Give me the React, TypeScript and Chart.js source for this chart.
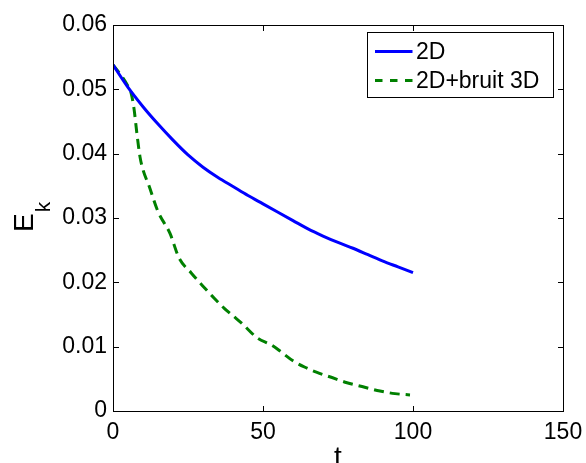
import React, { useEffect, useRef } from "react";
import { Chart, registerables } from "chart.js";

Chart.register(...registerables);

// Time axis (t) and kinetic energy E_k series
const tBlue = [0, 5, 10, 15, 20, 25, 30, 35, 40, 45, 50, 55, 60, 65, 70, 75, 80, 85, 90, 95, 100];
const ek2D = [0.0538, 0.0503, 0.0473, 0.0446, 0.0421, 0.0398, 0.0379, 0.0363, 0.0349, 0.0335, 0.0322, 0.0309, 0.0296, 0.0283, 0.0272, 0.0262, 0.0253, 0.0243, 0.0233, 0.0224, 0.0215];

const tNoise = [0, 3, 5, 6, 7, 8, 9, 10, 12, 15, 19, 22, 26, 30, 33, 37, 40, 43, 48, 53, 56, 60, 64, 68, 73, 78, 83, 89, 94, 99];
const ek2DNoise = [0.0538, 0.052, 0.0505, 0.0495, 0.047, 0.043, 0.0395, 0.0375, 0.035, 0.031, 0.0276, 0.0238, 0.0215, 0.0194, 0.0179, 0.016, 0.0148, 0.0136, 0.0114, 0.0102, 0.0092, 0.0078, 0.0068, 0.006, 0.0052, 0.0044, 0.0038, 0.0031, 0.0027, 0.0025];

const seriesLabels = ["2D", "2D+bruit 3D"];
const xTicks = [0, 50, 100, 150];
const yTicks = [0, 0.01, 0.02, 0.03, 0.04, 0.05, 0.06];
const xTitle = "t";
const yTitleMain = "E";
const yTitleSub = "k";

const FONT = '"Liberation Sans", Arial, Helvetica, sans-serif';

const framePlugin = {
  id: "matlabFrame",
  afterDraw(chart: any) {
    const ctx: CanvasRenderingContext2D = chart.ctx;
    const xs = chart.scales.x;
    const ys = chart.scales.y;
    const left = Math.round(xs.getPixelForValue(0));
    const right = Math.round(xs.getPixelForValue(150));
    const top = Math.round(ys.getPixelForValue(0.06));
    const bottom = Math.round(ys.getPixelForValue(0));

    // legend
    ctx.save();
    const lx = 367.5, ly = 32.5, lw = 186, lh = 65;
    ctx.fillStyle = "#fff";
    ctx.fillRect(lx, ly, lw, lh);
    ctx.strokeStyle = "#000";
    ctx.lineWidth = 1;
    ctx.strokeRect(lx, ly, lw, lh);
    const rows = [51.5, 80.5];
    chart.data.datasets.forEach((ds: any, i: number) => {
      const y = rows[i];
      ctx.beginPath();
      ctx.strokeStyle = ds.borderColor;
      ctx.lineWidth = 3;
      ctx.setLineDash(i === 1 ? [7.5, 7.5] : []);
      ctx.moveTo(375, y);
      ctx.lineTo(412.5, y);
      ctx.stroke();
      ctx.setLineDash([]);
      ctx.fillStyle = "#000";
      ctx.font = `23px ${FONT}`;
      ctx.textAlign = "left";
      ctx.textBaseline = "middle";
      ctx.fillText(ds.label, 416, y + 1);
    });

    // x title
    ctx.fillStyle = "#000";
    ctx.font = `28px ${FONT}`;
    ctx.textAlign = "center";
    ctx.textBaseline = "alphabetic";
    ctx.fillText(xTitle, (left + right) / 2, 466);

    // y title with subscript
    ctx.translate(33, 232);
    ctx.rotate(-Math.PI / 2);
    ctx.textAlign = "left";
    ctx.font = `28px ${FONT}`;
    ctx.fillText(yTitleMain, 0, 0);
    const ew = ctx.measureText(yTitleMain).width;
    ctx.font = `21px ${FONT}`;
    ctx.fillText(yTitleSub, ew + 1, 17);
    ctx.restore();

    // frame and inside ticks (drawn last)
    ctx.save();
    ctx.fillStyle = "#000";
    ctx.fillRect(left, top, right - left + 1, 1);
    ctx.fillRect(left, bottom, right - left + 1, 1);
    ctx.fillRect(left, top, 1, bottom - top + 1);
    ctx.fillRect(right, top, 1, bottom - top + 1);
    const tl = 5;
    for (const v of xTicks) {
      const px = Math.round(xs.getPixelForValue(v));
      if (px <= left + 1 || px >= right - 1) continue;
      ctx.fillRect(px, bottom - tl, 1, tl);
      ctx.fillRect(px, top + 1, 1, tl);
    }
    for (const v of yTicks) {
      const py = Math.round(ys.getPixelForValue(v));
      if (py <= top + 1 || py >= bottom - 1) continue;
      ctx.fillRect(left + 1, py, tl, 1);
      ctx.fillRect(right - tl, py, tl, 1);
    }
    ctx.restore();
  },
};

export default function App() {
  const ref = useRef<HTMLCanvasElement | null>(null);
  useEffect(() => {
    if (!ref.current) return;
    const chart = new Chart(ref.current, {
      type: "line",
      data: {
        datasets: [
          {
            label: seriesLabels[0],
            data: tBlue.map((t, i) => ({ x: t, y: ek2D[i] })),
            borderColor: "#0000ff",
            borderWidth: 3,
            pointRadius: 0,
            cubicInterpolationMode: "monotone",
            fill: false,
          },
          {
            label: seriesLabels[1],
            data: tNoise.map((t, i) => ({ x: t, y: ek2DNoise[i] })),
            borderColor: "#008000",
            borderWidth: 3,
            borderDash: [10, 6],
            pointRadius: 0,
            cubicInterpolationMode: "monotone",
            fill: false,
          },
        ],
      },
      options: {
        animation: false,
        responsive: true,
        maintainAspectRatio: false,
        layout: { padding: { top: 25, right: 23, left: 0, bottom: 0 } },
        plugins: { legend: { display: false }, tooltip: { enabled: false } },
        scales: {
          x: {
            type: "linear",
            min: 0,
            max: 150,
            grid: { display: false, drawTicks: false },
            border: { display: false },
            afterBuildTicks: (s: any) => {
              s.ticks = xTicks.map((v) => ({ value: v }));
            },
            afterFit: (s: any) => {
              s.height = 52;
              s.paddingLeft = 0;
              s.paddingRight = 0;
            },
            ticks: {
              color: "#000",
              font: { size: 23, family: FONT },
              padding: 8,
              maxRotation: 0,
            },
          },
          y: {
            type: "linear",
            min: 0,
            max: 0.06,
            grid: { display: false, drawTicks: false },
            border: { display: false },
            afterBuildTicks: (s: any) => {
              s.ticks = yTicks.map((v) => ({ value: v }));
            },
            afterFit: (s: any) => {
              s.width = 113;
              s.paddingTop = 0;
              s.paddingBottom = 0;
            },
            ticks: {
              color: "#000",
              font: { size: 23, family: FONT },
              padding: 6,
              callback: (v: any) => (v === 0 ? "0" : Number(v).toFixed(2)),
            },
          },
        },
      },
      plugins: [framePlugin],
    });
    return () => chart.destroy();
  }, []);
  return (
    <div style={{ position: "fixed", left: 0, top: 0, width: 586, height: 463, background: "#fff" }}>
      <canvas ref={ref} />
    </div>
  );
}
